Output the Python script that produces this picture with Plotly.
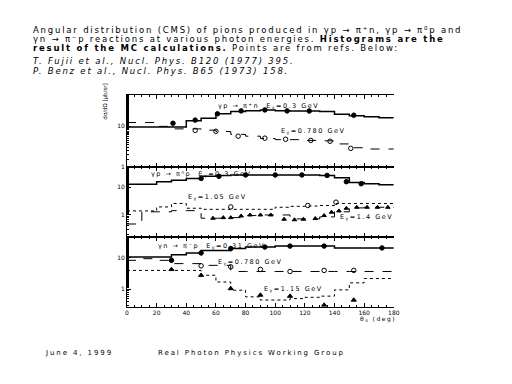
import plotly.graph_objects as go

W, H = 512, 384

# ---------------- data ----------------
theta_edges = [0, 10, 20, 30, 40, 50, 60, 70, 80, 90, 100, 110, 120, 130, 140, 150, 160, 170, 180]

# Panel 1: gamma p -> pi+ n
p1_hist_030 = [9.5, 9.5, 9.5, 9.5, 13.5, 15.5, 20, 23, 24, 25, 24, 23.5, 23.5, 23, 19.5, 18, 17, 16]
p1_pts_030_x = [31, 46, 61, 77, 93, 108, 123, 153]
p1_pts_030_y = [11.7, 14, 20, 23.7, 25, 23.7, 23.5, 18.5]
p1_hist_078 = [12.2, 12.2, 9.8, 8.5, 8.5, 7.9, 7.3, 6.2, 5.6, 4.9, 4.6, 4.6, 4.4, 4.3, 3.6, 2.9, 2.7, 2.7]
p1_pts_078_x = [46, 60, 75, 93, 107, 124, 137, 151]
p1_pts_078_y = [7.8, 7.4, 5.6, 5.0, 4.7, 4.4, 4.2, 2.8]

# Panel 2: gamma p -> pi0 p
p2_hist_030 = [13, 13, 16, 18, 21, 25, 27, 28, 28, 28, 28, 28, 28, 27, 22, 15, 13.5, 12.5]
p2_pts_030_x = [50, 62, 80, 100, 118, 135, 148, 158]
p2_pts_030_y = [21, 25, 28, 28, 28, 27, 16, 13.5]
p2_hist_105 = [1.4, 1.4, 1.95, 2.6, 1.75, 1.6, 1.6, 1.6, 1.6, 1.6, 1.9, 2.05, 2.1, 2.2, 2.6, 2.6, 2.6, 2.6]
p2_pts_105_x = [70, 122, 141]
p2_pts_105_y = [1.95, 2.2, 2.9]
p2_hist_140 = [0.47, 1.3, 1.3, 1.43, 1.43, 0.76, 0.76, 0.8, 0.95, 1.0, 1.0, 0.72, 0.72, 0.85, 1.3, 1.8, 1.9, 1.9]
p2_pts_140_x = [58, 65, 70, 77, 83, 90, 97, 106, 113, 119, 127, 133, 138, 143, 148, 155, 162, 169, 176]
p2_pts_140_y = [0.76, 0.8, 0.8, 0.92, 1.0, 1.0, 1.0, 0.7, 0.67, 0.7, 0.74, 0.95, 1.26, 1.4, 1.74, 1.9, 1.9, 1.9, 1.9]

# Panel 3: gamma n -> pi- p
p3_hist_031 = [10.7, 10.7, 10.7, 12.7, 14.5, 17.5, 17.5, 20, 22.4, 22.4, 24, 24, 24, 24, 21, 21, 21, 21]
p3_pts_031_x = [30, 50, 70, 93, 110, 133, 172]
p3_pts_031_y = [8.4, 14.5, 20, 22.4, 24, 24, 21]
p3_hist_078 = [8.4, 9.5, 8.4, 6.6, 6.6, 5.8, 5.8, 3.7, 3.7, 3.7, 3.7, 3.7, 3.7, 3.7, 3.7, 3.7, 3.7, 3.7]
p3_pts_078_x = [50, 70, 90, 110, 133, 153]
p3_pts_078_y = [5.6, 5.2, 4.3, 3.7, 4.0, 4.0]
p3_hist_115 = [4.0, 4.0, 4.0, 4.0, 4.0, 2.8, 1.7, 0.93, 0.57, 0.45, 0.45, 0.5, 0.55, 0.6, 0.95, 1.6, 2.2, 2.2]
p3_pts_115_x = [30, 50, 70, 90, 110, 133, 153]
p3_pts_115_y = [4.3, 2.8, 1.05, 0.65, 0.6, 0.31, 0.45]

x_tick_vals = [0, 20, 40, 60, 80, 100, 120, 140, 160, 180]
x_tick_text = ["0", "20", "40", "60", "80", "100", "120", "140", "160", "180"]
y_tick_vals = [1, 10]
y_tick_text = ["1", "10"]

# ---------------- figure ----------------
fig = go.Figure()

def hist_trace(vals, xa, ya, dash, width):
    return go.Scatter(x=theta_edges, y=vals + [vals[-1]], mode="lines",
                      line=dict(shape="hv", color="black", dash=dash, width=width),
                      xaxis=xa, yaxis=ya, showlegend=False, hoverinfo="skip")

def pts_trace(xs, ys, xa, ya, symbol, size=4.5):
    return go.Scatter(x=xs, y=ys, mode="markers",
                      marker=dict(symbol=symbol, size=size, color="black",
                                  line=dict(color="black", width=1)),
                      xaxis=xa, yaxis=ya, showlegend=False)

# panel 1 (top)
fig.add_trace(hist_trace(p1_hist_030, "x", "y", "solid", 1.5))
fig.add_trace(pts_trace(p1_pts_030_x, p1_pts_030_y, "x", "y", "circle"))
fig.add_trace(hist_trace(p1_hist_078, "x", "y", "dash", 1))
fig.add_trace(pts_trace(p1_pts_078_x, p1_pts_078_y, "x", "y", "circle-open"))
# panel 2
fig.add_trace(hist_trace(p2_hist_030, "x2", "y2", "solid", 1.5))
fig.add_trace(pts_trace(p2_pts_030_x, p2_pts_030_y, "x2", "y2", "circle"))
fig.add_trace(hist_trace(p2_hist_105, "x2", "y2", "dot", 1))
fig.add_trace(pts_trace(p2_pts_105_x, p2_pts_105_y, "x2", "y2", "circle-open"))
fig.add_trace(hist_trace(p2_hist_140, "x2", "y2", "dash", 1))
fig.add_trace(pts_trace(p2_pts_140_x, p2_pts_140_y, "x2", "y2", "triangle-up", 4))
# panel 3
fig.add_trace(hist_trace(p3_hist_031, "x3", "y3", "solid", 1.5))
fig.add_trace(pts_trace(p3_pts_031_x, p3_pts_031_y, "x3", "y3", "circle"))
fig.add_trace(hist_trace(p3_hist_078, "x3", "y3", "dash", 1))
fig.add_trace(pts_trace(p3_pts_078_x, p3_pts_078_y, "x3", "y3", "circle-open"))
fig.add_trace(hist_trace(p3_hist_115, "x3", "y3", "dot", 1))
fig.add_trace(pts_trace(p3_pts_115_x, p3_pts_115_y, "x3", "y3", "triangle-up", 4.5))

def py(p):  # pixel y -> paper
    return 1 - p / H

def px(p):
    return p / W

xdom = [px(127), px(398)]
dom1 = [py(168.3), py(95)]
dom2 = [py(238.3), py(168.3)]
dom3 = [py(308.3), py(238.3)]

tickfont = dict(family="DejaVu Sans", size=6, color="black")

def xaxis_cfg(anchor, labels):
    return dict(domain=xdom, anchor=anchor, range=[0, 180], showline=True, linecolor="black",
                linewidth=1, mirror="allticks", ticks="inside", ticklen=4, tickcolor="black",
                tickvals=x_tick_vals, ticktext=x_tick_text, showticklabels=labels,
                tickfont=tickfont, showgrid=False, zeroline=False,
                minor=dict(ticks="inside", ticklen=2, dtick=5, tickcolor="black", showgrid=False))

def yaxis_cfg(anchor, dom, rng):
    return dict(domain=dom, anchor=anchor, type="log", range=rng, showline=True, linecolor="black",
                linewidth=1, ticks="inside", ticklen=4, tickcolor="black",
                tickvals=y_tick_vals, ticktext=y_tick_text, tickfont=tickfont,
                showgrid=False, zeroline=False,
                minor=dict(ticks="inside", ticklen=2, tickcolor="black", showgrid=False))

fig.update_layout(
    width=W, height=H, margin=dict(l=0, r=0, t=0, b=0),
    paper_bgcolor="white", plot_bgcolor="white",
    xaxis=xaxis_cfg("y", False), yaxis=yaxis_cfg("x", dom1, [-0.025, 1.78]),
    xaxis2=xaxis_cfg("y2", False), yaxis2=yaxis_cfg("x2", dom2, [-0.8, 1.72]),
    xaxis3=xaxis_cfg("y3", True), yaxis3=yaxis_cfg("x3", dom3, [-0.56, 1.67]),
)

ann = []
def text(x, y, s, size=7, xanchor="left", family="DejaVu Sans", angle=0):
    ann.append(dict(x=px(x), y=py(y), xref="paper", yref="paper", text=s, showarrow=False,
                    xanchor=xanchor, yanchor="middle", textangle=angle,
                    align=xanchor if xanchor != "center" else "center",
                    borderpad=0,
                    font=dict(family=family, size=size, color="black")))

# header
tf = 8.5
text(30, 30.2, "Angular distribution (CMS) of pions produced in γp → π⁺n, γp → π⁰p and", tf)
text(30, 39.0, "γn → π⁻p reactions at various photon energies. <b>Histograms are the</b>", tf)
text(30, 48.2, "<b>result of the MC calculations.</b> Points are from refs. Below:", tf)
text(30, 61, "<i>T. Fujii et al., Nucl. Phys. B120 (1977) 395.</i>", tf)
text(30, 71, "<i>P. Benz et al., Nucl. Phys. B65 (1973) 158.</i>", tf)

# footer
text(43, 355, "June 4, 1999", 7)
text(157, 355, "Real Photon Physics Working Group", 7)

# panel labels
text(218, 107, "γp → π⁺n  E<sub>γ</sub>=0.3 GeV", 6.5)
text(282, 132, "E<sub>γ</sub>=0.780 GeV", 6.5)
text(150, 175, "γp → π⁰p  E<sub>γ</sub>=0.3 GeV", 6.5)
text(188, 198, "E<sub>γ</sub>=1.05 GeV", 6.5)
text(342, 218, "E<sub>γ</sub>=1.4 GeV", 6.5)
text(157, 247, "γn → π⁻p  E<sub>γ</sub>=0.31 GeV", 6.5)
text(218, 263, "E<sub>γ</sub>=0.780 GeV", 6.5)
text(265, 291, "E<sub>γ</sub>=1.15 GeV", 6.5)

# axis titles
text(105, 102, "dσ/dΩ [μb/sr]", 5.5, xanchor="center", angle=-90)
text(363, 321, "θ<sub>π</sub> (deg)", 6)

fig.update_layout(annotations=ann)

post = """
document.body.style.margin = '0';
document.body.style.padding = '0';
function widen() {
  var gd = document.getElementById('{plot_id}');
  if (!gd) return;
  gd.querySelectorAll('text.annotation-text').forEach(function (t) {
    var s = t.textContent;
    if (s.indexOf('dσ') !== -1) return;
    var fs = parseFloat(t.style.fontSize || '7');
    t.style.letterSpacing = (fs >= 8 ? 1.8 : (fs >= 7 ? 1.9 : 1.5)) + 'px';
  });
}
widen();
setTimeout(widen, 0);
setTimeout(widen, 200);
"""

fig.write_html("out.html", post_script=post, config={"displayModeBar": False})
